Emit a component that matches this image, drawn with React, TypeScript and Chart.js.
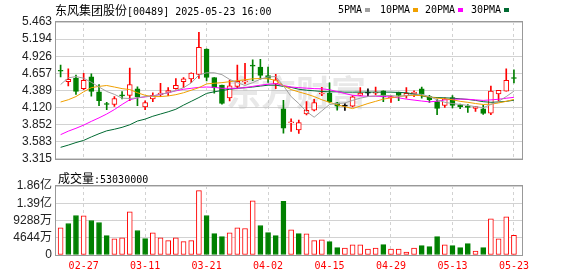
import React, { useEffect, useRef } from 'react';
import { Chart, registerables } from 'chart.js';

Chart.register(...registerables);

// ---------------- data ----------------
const STOCK_NAME = '东风集团股份';
const STOCK_CODE = '00489';
const DATETIME = '2025-05-23 16:00';
const VOLUME_LABEL = '成交量';
const WATERMARK = '东方财富';

const DATES = [
  '02-24', '02-25', '02-26', '02-27', '02-28', '03-03', '03-04', '03-05', '03-06', '03-07',
  '03-10', '03-11', '03-12', '03-13', '03-14', '03-17', '03-18', '03-19', '03-20', '03-21',
  '03-24', '03-25', '03-26', '03-27', '03-28', '03-31', '04-01', '04-02', '04-03', '04-07',
  '04-08', '04-09', '04-10', '04-11', '04-14', '04-15', '04-16', '04-17', '04-22', '04-23',
  '04-24', '04-25', '04-28', '04-29', '04-30', '05-02', '05-06', '05-07', '05-08', '05-09',
  '05-12', '05-13', '05-14', '05-15', '05-16', '05-19', '05-20', '05-21', '05-22', '05-23',
];
const AXIS_DATES = ['02-27', '03-11', '03-21', '04-02', '04-15', '04-29', '05-13', '05-23'];

const OPEN = [
  4.701, 4.526, 4.581, 4.417, 4.601, 4.367, 4.172, 4.168, 4.307, 4.312,
  4.412, 4.128, 4.257, 4.322, 4.357, 4.417, 4.526, 4.571, 4.641, 5.039,
  4.591, 4.472, 4.272, 4.452, 4.521, 4.776, 4.755, 4.621, 4.491, 4.098,
  3.878, 3.769, 4.018, 4.078, 4.332, 4.347, 4.192, 4.143, 4.143, 4.312,
  4.347, 4.347, 4.382, 4.272, 4.362, 4.302, 4.337, 4.412, 4.292, 4.212,
  4.153, 4.277, 4.163, 4.133, 4.108, 4.098, 4.033, 4.332, 4.377, 4.581,
];
const HIGH = [
  4.785, 4.726, 4.631, 4.656, 4.651, 4.481, 4.202, 4.292, 4.372, 4.741,
  4.447, 4.227, 4.352, 4.501, 4.432, 4.576, 4.590, 4.665, 5.299, 5.040,
  4.591, 4.472, 4.551, 4.785, 4.815, 4.870, 4.875, 4.755, 4.641, 4.232,
  3.943, 3.923, 4.212, 4.247, 4.437, 4.506, 4.202, 4.182, 4.307, 4.432,
  4.412, 4.442, 4.382, 4.307, 4.362, 4.432, 4.382, 4.442, 4.312, 4.252,
  4.272, 4.307, 4.173, 4.168, 4.133, 4.153, 4.457, 4.392, 4.726, 4.711,
];
const LOW = [
  4.601, 4.461, 4.327, 4.402, 4.297, 4.148, 4.088, 4.138, 4.257, 4.227,
  4.148, 4.088, 4.212, 4.292, 4.307, 4.407, 4.430, 4.511, 4.576, 4.536,
  4.347, 4.173, 4.222, 4.432, 4.491, 4.541, 4.566, 4.516, 4.417, 3.719,
  3.744, 3.714, 4.003, 4.068, 4.307, 4.192, 4.078, 4.073, 4.128, 4.307,
  4.292, 4.317, 4.212, 4.202, 4.227, 4.267, 4.292, 4.267, 4.202, 4.008,
  4.123, 4.113, 4.103, 4.043, 4.058, 4.013, 4.008, 4.217, 4.377, 4.506,
];
const CLOSE = [
  4.690, 4.561, 4.372, 4.546, 4.372, 4.227, 4.167, 4.262, 4.302, 4.481,
  4.292, 4.197, 4.312, 4.347, 4.387, 4.467, 4.571, 4.661, 5.064, 4.591,
  4.432, 4.183, 4.462, 4.531, 4.541, 4.771, 4.626, 4.576, 4.556, 3.794,
  3.893, 3.884, 4.078, 4.197, 4.347, 4.207, 4.143, 4.143, 4.287, 4.347,
  4.347, 4.352, 4.287, 4.292, 4.312, 4.342, 4.362, 4.327, 4.242, 4.108,
  4.257, 4.153, 4.133, 4.123, 4.133, 4.028, 4.377, 4.392, 4.546, 4.576,
];
const VOLUME = [
  73060000, 84790000, 106440000, 105530000, 92910000, 87490000, 52320000, 43300000, 46000000, 116360000,
  65850000, 44200000, 59530000, 46000000, 38790000, 46000000, 36080000, 38790000, 173180000, 106440000,
  57730000, 49610000, 59530000, 73060000, 71260000, 146120000, 79380000, 60430000, 52320000, 144320000,
  67650000, 57730000, 56830000, 38790000, 40590000, 36080000, 19840000, 18940000, 27060000, 27060000,
  16240000, 18940000, 27960000, 16240000, 16240000, 8120000, 18940000, 25260000, 22550000, 49610000,
  27060000, 25260000, 19840000, 30670000, 10820000, 19840000, 97420000, 43300000, 102830000, 53030000,
];

const MA5 = [
  4.481, 4.586, 4.606, 4.581, 4.516, 4.442, 4.372, 4.327, 4.267, 4.262,
  4.272, 4.292, 4.302, 4.327, 4.352, 4.387, 4.432, 4.506, 4.631, 4.666,
  4.666, 4.636, 4.561, 4.511, 4.466, 4.511, 4.566, 4.601, 4.606, 4.462,
  4.292, 4.183, 4.058, 3.968, 4.068, 4.168, 4.183, 4.192, 4.232, 4.267,
  4.292, 4.302, 4.312, 4.307, 4.297, 4.307, 4.332, 4.327, 4.292, 4.242,
  4.202, 4.183, 4.168, 4.153, 4.133, 4.118, 4.168, 4.217, 4.292, 4.377,
];
const MA10 = [
  4.207, 4.242, 4.292, 4.367, 4.432, 4.452, 4.466, 4.442, 4.417, 4.402,
  4.352, 4.312, 4.292, 4.292, 4.302, 4.322, 4.352, 4.392, 4.432, 4.491,
  4.501, 4.511, 4.526, 4.541, 4.556, 4.571, 4.576, 4.571, 4.546, 4.462,
  4.402, 4.365, 4.332, 4.292, 4.242, 4.202, 4.163, 4.133, 4.103, 4.143,
  4.183, 4.217, 4.252, 4.272, 4.292, 4.307, 4.312, 4.307, 4.287, 4.267,
  4.257, 4.242, 4.217, 4.202, 4.183, 4.168, 4.173, 4.192, 4.217, 4.247,
];
const MA20 = [
  3.694, 3.749, 3.794, 3.844, 3.903, 3.958, 4.018, 4.088, 4.168, 4.242,
  4.272, 4.287, 4.302, 4.327, 4.352, 4.382, 4.407, 4.422, 4.437, 4.442,
  4.437, 4.422, 4.422, 4.422, 4.432, 4.452, 4.471, 4.486, 4.496, 4.466,
  4.442, 4.432, 4.424, 4.417, 4.414, 4.400, 4.370, 4.340, 4.312, 4.302,
  4.297, 4.297, 4.292, 4.285, 4.272, 4.252, 4.237, 4.222, 4.209, 4.220,
  4.240, 4.250, 4.252, 4.250, 4.240, 4.232, 4.240, 4.250, 4.266, 4.280,
];
const MA30 = [
  3.495, 3.530, 3.570, 3.604, 3.659, 3.709, 3.754, 3.779, 3.809, 3.849,
  3.908, 3.938, 3.983, 4.018, 4.053, 4.093, 4.158, 4.217, 4.277, 4.342,
  4.367, 4.387, 4.407, 4.422, 4.432, 4.442, 4.457, 4.471, 4.471, 4.452,
  4.437, 4.407, 4.392, 4.382, 4.372, 4.367, 4.367, 4.362, 4.362, 4.362,
  4.362, 4.362, 4.362, 4.362, 4.357, 4.352, 4.332, 4.302, 4.282, 4.277,
  4.272, 4.267, 4.257, 4.247, 4.232, 4.212, 4.202, 4.207, 4.217, 4.235,
];
const MA_NAMES = ['5PMA', '10PMA', '20PMA', '30PMA'];

const PRICE_TICKS = [3.315, 3.583, 3.852, 4.120, 4.389, 4.657, 4.926, 5.194, 5.463];
const VOLUME_TICKS = [0, 46440000, 92880000, 139320000, 185760000];

// ---------------- styles ----------------
const W = 578;
const TOP_H = 170;
const BOT_H = 106;
const PLOT_LEFT = 56;
const PLOT_RIGHT_PAD = 56;
const UP = '#ff0000';
const DOWN = '#008000';
const FLAT = '#000000';
const MA_COLORS = ['#a0a0a0', '#f0a000', '#ff00ff', '#006a32'];
const GRID = '#d2d2d2';
const FRAME = '#999999';
const AXIS_FONT = '"Liberation Sans", "Noto Sans CJK SC", sans-serif';
const MONO = '"DejaVu Sans Mono", monospace';
const CJK = '"Noto Sans CJK SC", sans-serif';
const X_MIN = -0.6;
const X_MAX = 60.05;

const framePlugin = {
  id: 'frame',
  afterDraw(chart: any) {
    const { ctx, chartArea: a } = chart;
    ctx.save();
    ctx.strokeStyle = FRAME;
    ctx.lineWidth = 1;
    ctx.strokeRect(
      Math.round(a.left) - 0.5,
      Math.round(a.top) - 0.5,
      Math.round(a.right - a.left) + 1,
      Math.round(a.bottom - a.top) + 1,
    );
    ctx.restore();
  },
};

const watermarkPlugin = {
  id: 'watermark',
  beforeDatasetsDraw(chart: any) {
    const { ctx } = chart;
    ctx.save();
    ctx.font = `bold 35px ${CJK}`;
    ctx.fillStyle = 'rgba(190,190,190,0.35)';
    ctx.textBaseline = 'middle';
    ctx.textAlign = 'left';
    ctx.fillText(WATERMARK, 226, 93);
    ctx.restore();
  },
};

const axisIdx = AXIS_DATES.map((d) => DATES.indexOf(d));

function xScale(showLabels: boolean) {
  return {
    type: 'linear',
    min: X_MIN,
    max: X_MAX,
    offset: false,
    afterBuildTicks: (s: any) => {
      s.ticks = axisIdx.map((v) => ({ value: v }));
    },
    afterFit: (s: any) => {
      s.height = showLabels ? 21 : 0;
    },
    grid: { color: GRID, drawTicks: false, offset: false },
    border: { display: false, dash: [3, 3] },
    ticks: {
      display: showLabels,
      autoSkip: false,
      maxRotation: 0,
      padding: 5,
      color: UP,
      font: { family: MONO, size: 10 },
      callback: (v: any) => DATES[v] ?? '',
    },
  };
}

function candleColor(i: number) {
  if (CLOSE[i] > OPEN[i]) return UP;
  if (CLOSE[i] < OPEN[i]) return DOWN;
  return FLAT;
}

export default function App() {
  const topRef = useRef<HTMLCanvasElement>(null);
  const botRef = useRef<HTMLCanvasElement>(null);

  useEffect(() => {
    const colors = CLOSE.map((_, i) => candleColor(i));
    const fills = CLOSE.map((_, i) => (CLOSE[i] > OPEN[i] ? '#ffffff' : colors[i]));
    const maSets = [MA5, MA10, MA20, MA30].map((arr, k) => ({
      type: 'line',
      label: MA_NAMES[k],
      data: arr.map((v, i) => ({ x: i, y: v })),
      borderColor: MA_COLORS[k],
      borderWidth: 1,
      pointRadius: 0,
      tension: 0,
      order: 0,
    }));

    const top = new Chart(topRef.current!, {
      type: 'bar',
      data: {
        datasets: [
          ...maSets,
          {
            type: 'bar',
            label: 'wick',
            data: LOW.map((l, i) => ({ x: i, y: [l, HIGH[i]] })),
            backgroundColor: colors,
            borderWidth: 0,
            barThickness: 1,
            grouped: false,
            order: 2,
          },
          {
            type: 'bar',
            label: 'body',
            data: OPEN.map((o, i) => ({ x: i, y: [o, CLOSE[i]] })),
            backgroundColor: fills,
            borderColor: colors,
            borderWidth: 1,
            borderSkipped: false,
            barThickness: 5,
            minBarLength: 1,
            grouped: false,
            order: 1,
          },
        ] as any,
      },
      options: {
        animation: false,
        responsive: false,
        events: [],
        layout: { padding: { left: 0, right: PLOT_RIGHT_PAD, top: 22, bottom: 5 } },
        plugins: { legend: { display: false }, tooltip: { enabled: false } },
        scales: {
          x: xScale(false) as any,
          y: {
            type: 'linear',
            position: 'left',
            min: PRICE_TICKS[0],
            max: PRICE_TICKS[PRICE_TICKS.length - 1],
            afterBuildTicks: (s: any) => {
              s.ticks = PRICE_TICKS.map((v) => ({ value: v }));
            },
            afterFit: (s: any) => {
              s.width = PLOT_LEFT;
            },
            grid: { color: GRID, drawTicks: false },
            border: { display: false },
            ticks: {
              autoSkip: false,
              padding: 4,
              color: '#222',
              font: { family: AXIS_FONT, size: 12 },
              callback: (v: any) => Number(v).toFixed(3),
            },
          },
        },
      },
      plugins: [watermarkPlugin, framePlugin],
    });

    const volColors = VOLUME.map((_, i) => (i === 0 || CLOSE[i] >= CLOSE[i - 1] ? UP : DOWN));
    const volFills = volColors.map((c) => (c === UP ? '#ffffff' : c));

    const bot = new Chart(botRef.current!, {
      type: 'bar',
      data: {
        datasets: [
          {
            label: 'volume',
            data: VOLUME.map((v, i) => ({ x: i, y: v })),
            backgroundColor: volFills,
            borderColor: volColors,
            borderWidth: 1,
            borderSkipped: false,
            barThickness: 5,
            grouped: false,
          },
        ] as any,
      },
      options: {
        animation: false,
        responsive: false,
        events: [],
        layout: { padding: { left: 0, right: PLOT_RIGHT_PAD, top: 16, bottom: 0 } },
        plugins: { legend: { display: false }, tooltip: { enabled: false } },
        scales: {
          x: xScale(true) as any,
          y: {
            type: 'linear',
            position: 'left',
            min: 0,
            max: VOLUME_TICKS[VOLUME_TICKS.length - 1],
            afterBuildTicks: (s: any) => {
              s.ticks = VOLUME_TICKS.map((v) => ({ value: v }));
            },
            afterFit: (s: any) => {
              s.width = PLOT_LEFT;
            },
            grid: { color: GRID, drawTicks: false },
            border: { display: false },
            ticks: {
              autoSkip: false,
              padding: 4,
              color: '#222',
              font: { family: AXIS_FONT, size: 12 },
              callback: (v: any) => {
                const n = Number(v);
                if (n === 0) return '0';
                if (n >= 1e8) return (n / 1e8).toFixed(2) + '亿';
                return Math.round(n / 1e4) + '万';
              },
            },
          },
        },
      },
      plugins: [framePlugin],
    });

    return () => {
      top.destroy();
      bot.destroy();
    };
  }, []);

  const legendX = [338, 380, 425, 471];

  return (
    <div style={{ position: 'fixed', left: 0, top: 0, width: W, height: TOP_H + BOT_H, background: '#fff', overflow: 'hidden' }}>
      <canvas ref={topRef} width={W} height={TOP_H} style={{ position: 'absolute', left: 0, top: 0 }} />
      <canvas ref={botRef} width={W} height={BOT_H} style={{ position: 'absolute', left: 0, top: TOP_H }} />
      <div style={{ position: 'absolute', left: 55, top: 3, lineHeight: '13px', whiteSpace: 'nowrap', color: '#000' }}>
        <span style={{ fontFamily: CJK, fontSize: 12 }}>{STOCK_NAME}</span>
        <span style={{ fontFamily: MONO, fontSize: 10 }}>[{STOCK_CODE}] {DATETIME}</span>
      </div>
      {MA_NAMES.map((n, k) => (
        <div key={n} style={{ position: 'absolute', left: legendX[k], top: 3, lineHeight: '13px', whiteSpace: 'nowrap', fontFamily: MONO, fontSize: 10, color: '#000', display: 'flex', alignItems: 'center' }}>
          <span>{n}</span>
          <span style={{ display: 'inline-block', width: 5, height: 4, marginLeft: 3, background: MA_COLORS[k] }} />
        </div>
      ))}
      <div style={{ position: 'absolute', left: 58, top: 171, lineHeight: '13px', whiteSpace: 'nowrap', color: '#000' }}>
        <span style={{ fontFamily: CJK, fontSize: 12 }}>{VOLUME_LABEL}</span>
        <span style={{ fontFamily: MONO, fontSize: 10 }}>:{VOLUME[VOLUME.length - 1]}</span>
      </div>
    </div>
  );
}
